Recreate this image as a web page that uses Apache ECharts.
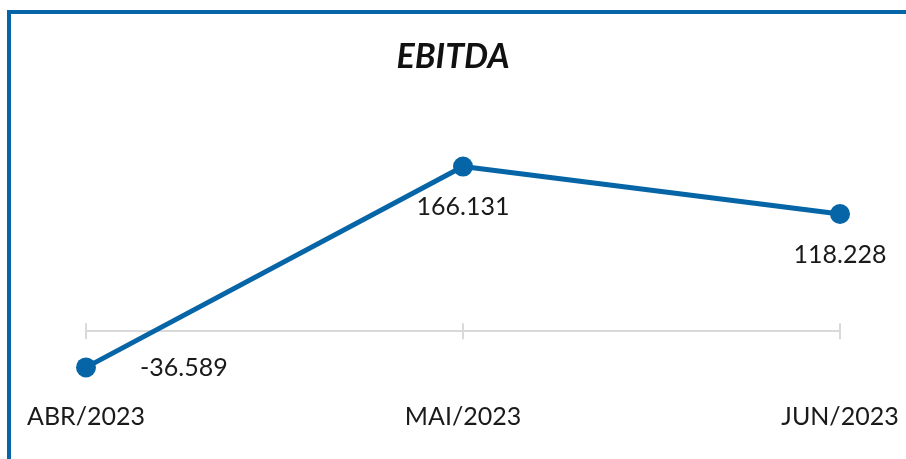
<!DOCTYPE html>
<html>
<head>
<meta charset="utf-8">
<script src="https://cdn.jsdelivr.net/npm/echarts@6/dist/echarts.min.js"></script>
<style>
  html, body { margin: 0; padding: 0; background: #fff; }
  #frame { position: absolute; left: 7px; top: 10px; width: 899px; height: 449px;
           border-left: 4px solid #0565a6; border-top: 4px solid #0565a6; box-sizing: border-box; }
  #main { position: absolute; left: 0; top: 0; width: 906px; height: 459px; }
</style>
</head>
<body>
<div id="frame"></div>
<div id="main"></div>
<script>
// dados EBITDA
var meses = ['ABR/2023', 'MAI/2023', 'JUN/2023'];
var ebitda = [-36.589, 166.131, 118.228];
var rotulos = ['-36.589', '166.131', '118.228'];

var azul = '#0565a6';
var fonte = 'Lato';

function lineChart(id) {
    var myChart = echarts.init(document.getElementById(id));
    var grade = { left: 86, right: 66, top: 133, bottom: 58.5 };
    var option = {
        animation: false,
        title: {
            text: 'EBITDA',
            left: 'center',
            top: 35,
            textStyle: {
                fontFamily: fonte,
                fontWeight: 'bold',
                fontStyle: 'italic',
                fontSize: 34,
                color: '#111111'
            }
        },
        grid: [grade, grade],
        xAxis: [{
            // linha do zero com ticks para baixo + rotulos no fundo
            type: 'category',
            gridIndex: 0,
            data: meses,
            boundaryGap: false,
            axisLine: { show: false },
            axisTick: { show: false },
            axisLabel: {
                fontFamily: fonte,
                fontSize: 25,
                color: '#1a1a1a',
                margin: 4
            }
        }, {
            type: 'category',
            gridIndex: 1,
            data: meses,
            boundaryGap: false,
            axisLine: { show: true, onZero: true, lineStyle: { color: '#d9d9d9', width: 2 } },
            axisTick: { show: true, alignWithLabel: true, length: 8, lineStyle: { color: '#d9d9d9', width: 2 } },
            axisLabel: { show: false }
        }, {
            type: 'category',
            gridIndex: 1,
            data: meses,
            boundaryGap: false,
            position: 'bottom',
            axisLine: { show: false, onZero: true, onZeroAxisIndex: 2 },
            axisTick: { show: true, inside: true, length: 8, lineStyle: { color: '#d9d9d9', width: 2 } },
            axisLabel: { show: false }
        }],
        yAxis: [{
            type: 'value', gridIndex: 0, min: -70, max: 200, show: false
        }, {
            type: 'value', gridIndex: 1, min: -70, max: 200, show: false
        }, {
            type: 'value', gridIndex: 1, min: -70, max: 200, show: false
        }],
        series: [{
            type: 'line',
            xAxisIndex: 0,
            yAxisIndex: 0,
            data: ebitda,
            symbol: 'circle',
            symbolSize: 20,
            lineStyle: { color: azul, width: 5 },
            itemStyle: { color: azul },
            z: 5,
            label: {
                show: true,
                position: 'bottom',
                distance: 18,
                offset: [4, 0],
                fontFamily: fonte,
                fontSize: 25,
                color: '#1a1a1a',
                formatter: function (p) { return rotulos[p.dataIndex]; }
            },
            labelLayout: function (p) {
                if (p.dataIndex === 0) {
                    return { x: p.rect.x + 64, y: p.rect.y + 11, align: 'left', verticalAlign: 'middle' };
                }
            }
        }]
    };
    myChart.setOption(option);
}

lineChart('main');
</script>
</body>
</html>
